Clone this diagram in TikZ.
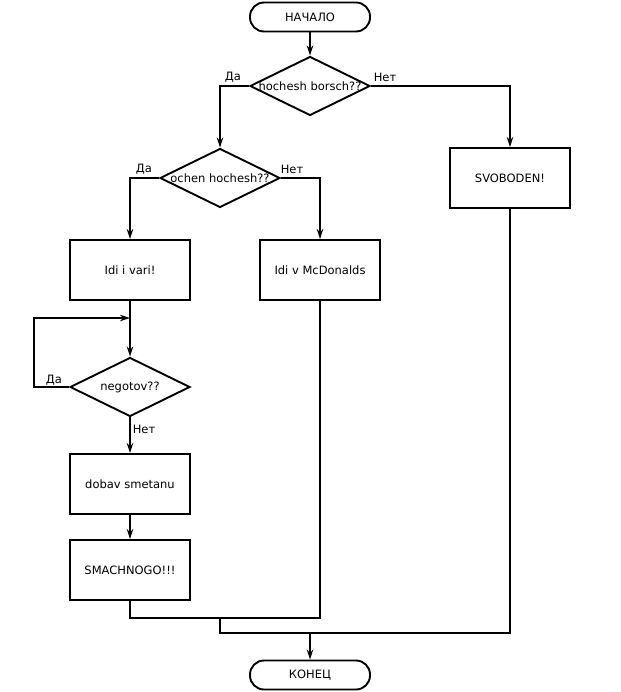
\documentclass[tikz,border=0pt]{standalone}
\usepackage{fontspec}
\setmainfont{DejaVu Sans}
\usetikzlibrary{shapes.geometric,arrows.meta}
\tikzset{
  line/.style={line width=1.9pt},
  flow/.style={line, -{Stealth[length=10pt,width=6.5pt]}},
  terminal/.style={line, draw, rectangle, rounded corners=14pt, minimum width=120pt, minimum height=29pt, inner sep=0pt},
  process/.style={line, draw, rectangle, minimum width=120pt, minimum height=60pt, inner sep=0pt},
  decision/.style={line, draw, diamond, minimum width=120pt, minimum height=59pt, inner sep=0pt},
  answer/.style={inner sep=0pt}
}
\newcommand{\qtext}[1]{\makebox[0pt]{#1}}
\begin{document}
\begin{tikzpicture}[x=1pt,y=-1pt,font=\fontsize{11.5}{13}\selectfont]
\useasboundingbox[fill=white] (0,0) rectangle (620,692);
\node[terminal] (start) at (310,17) {НАЧАЛО};
\node[decision] (borsch) at (310,86) {\qtext{hochesh borsch??}};
\node[decision] (ochen) at (220,178) {\qtext{ochen hochesh??}};
\node[process] (free) at (510,178) {SVOBODEN!};
\node[process] (cook) at (130,270) {Idi i vari!};
\node[process] (mcd) at (320,270) {Idi v McDonalds};
\node[decision] (ready) at (130,387) {\qtext{negotov??}};
\node[process] (cream) at (130,484) {dobav smetanu};
\node[process] (tasty) at (130,570) {SMACHNOGO!!!};
\node[terminal] (end) at (310,675) {КОНЕЦ};

\node[answer] (yes1) at (233,77) {Да};
\node[answer] (no1) at (385,77) {Нет};
\node[answer] (yes2) at (144,169) {Да};
\node[answer] (no2) at (292,169) {Нет};
\node[answer] (yes3) at (54,380) {Да};
\node[answer] (no3) at (144,429) {Нет};

\coordinate (loop) at (130,318);
\coordinate (joinA) at (220,618);
\coordinate (joinB) at (310,633);

\draw[flow] (start) -- (borsch);
\draw[flow] (borsch.west) -| (ochen.north);
\draw[flow] (borsch.east) -| (free.north);
\draw[flow] (ochen.west) -| (cook.north);
\draw[flow] (ochen.east) -| (mcd.north);
\draw[flow] (cook) -- (ready);
\draw[flow] (ready.west) -- ++(-35,0) |- (loop);
\draw[flow] (ready) -- (cream);
\draw[flow] (cream) -- (tasty);
\draw[line] (tasty.south) |- (mcd.south |- joinA) -- (mcd.south);
\draw[line] (joinA) |- (joinB) -| (free.south);
\draw[flow] (joinB) -- (end);
\end{tikzpicture}
\end{document}
